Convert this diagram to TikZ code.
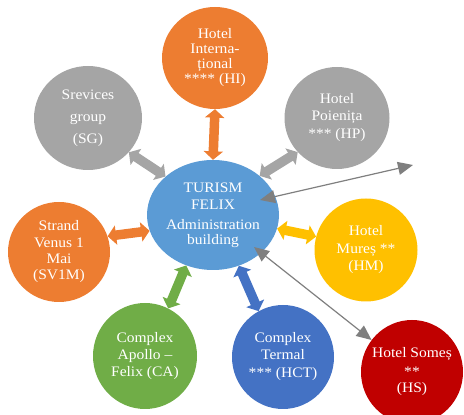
\documentclass[tikz,border=0pt]{standalone}
\usepackage{fontspec}
\setmainfont{Liberation Serif}[FakeStretch=1.07]
\usetikzlibrary{shapes.geometric,arrows.meta}
\definecolor{cOrange}{HTML}{ED7D31}
\definecolor{cGray}{HTML}{A5A5A5}
\definecolor{cBlue}{HTML}{5B9BD5}
\definecolor{cYellow}{HTML}{FFC000}
\definecolor{cGreen}{HTML}{70AD47}
\definecolor{cDBlue}{HTML}{4472C4}
\definecolor{cRed}{HTML}{C00000}
\definecolor{cLine}{HTML}{7F7F7F}
\begin{document}
\begin{tikzpicture}[x=1pt,y=1pt,
  bub/.style={ellipse, inner sep=-20pt, text=white, align=center,
    font=\fontsize{14.5}{16}\selectfont},
  blk/.style={line width=9.5pt,
    {Triangle[width=19pt,length=8.5pt]}-{Triangle[width=19pt,length=8.5pt]}},
  thinarrow/.style={draw=cLine, line width=1.2pt,
    {Triangle[width=13pt,length=15pt]}-{Triangle[width=13pt,length=15pt]}}]
\useasboundingbox (0,0) rectangle (464,415);
\clip (0,0) rectangle (464,415);

% bubbles
\node[bub, fill=cBlue, minimum width=132pt, minimum height=110pt] (C) at (213,200)
  {TURISM\\[1pt]FELIX\\[4pt]Administration\\[-1pt]building};
\node[bub, fill=cOrange, minimum width=106pt, minimum height=102pt] (HI) at (215,357)
  {Hotel\\[-1pt]Interna-\\[-1pt]țional\\[-1pt]**** (HI)};
\node[bub, fill=cGray, minimum width=108pt, minimum height=104pt] (SG) at (88,297)
  {Srevices\\[6pt]group\\[6pt](SG)};
\node[bub, fill=cGray, minimum width=105pt, minimum height=102pt] (HP) at (337,297)
  {Hotel\\[1pt]Poienița\\[2pt]*** (HP)};
\node[bub, fill=cOrange, minimum width=102pt, minimum height=100pt] (SV) at (59,163)
  {Strand\\[0.5pt]Venus 1\\[0.5pt]Mai\\[0pt](SV1M)};
\node[bub, fill=cYellow, minimum width=103pt, minimum height=103pt] (HM) at (366,165)
  {Hotel\\[2pt]Mureș **\\[1pt](HM)};
\node[bub, fill=cRed, minimum width=102pt, minimum height=104pt] (HS) at (412,43)
  {Hotel Someș\\[3pt]**\\[0pt](HS)};
\node[bub, fill=cGreen, minimum width=104pt, minimum height=106pt] (CA) at (145,59)
  {Complex\\[1pt]Apollo –\\[1pt]Felix (CA)};
\node[bub, fill=cDBlue, minimum width=102pt, minimum height=104pt] (HCT) at (283,58)
  {Complex\\[1pt]Termal\\[2pt]*** (HCT)};

% block double arrows
\draw[blk, cOrange] (HI.south) -- (C.north);
\draw[blk, cGray] (SG.-40) -- (C.141);
\draw[blk, cGray] (HP.221) -- (C.40);
\draw[blk, cOrange] (SV.18) -- (C.194);
\draw[blk, cYellow] (HM.165) -- (C.-12);
\draw[blk, cGreen] (CA.64) -- (C.242);
\draw[blk, cDBlue] (HCT.118) -- (C.297);

% thin arrows
\coordinate (t1a) at (260,215);
\coordinate (t1b) at (413,250);
\coordinate (t2a) at (254,168);
\draw[thinarrow] (t1a) -- (t1b);
\draw[thinarrow] (t2a) -- (HS);
\end{tikzpicture}
\end{document}
